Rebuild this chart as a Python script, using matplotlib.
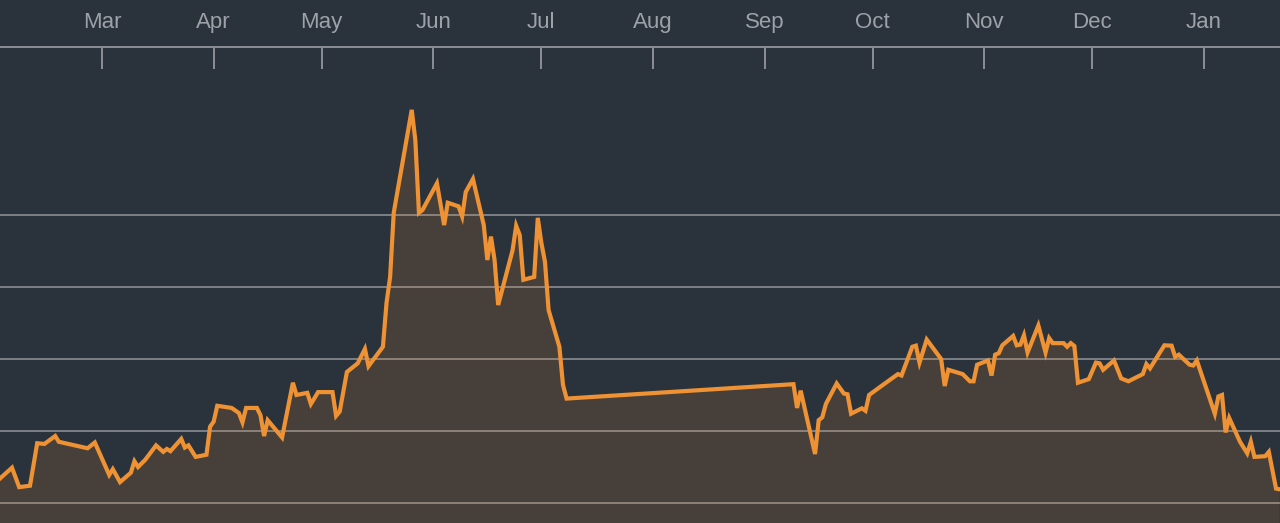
import pandas as pd
import matplotlib
matplotlib.use('Agg')
import matplotlib.pyplot as plt
import matplotlib.dates as mdates

# daily closes (gap between Jul 8 and Sep 9 is in the source)
dates = [
    '2020-02-01', '2020-02-05', '2020-02-07', '2020-02-10', '2020-02-12', '2020-02-14',
    '2020-02-17', '2020-02-18', '2020-02-26', '2020-02-28', '2020-03-03', '2020-03-04',
    '2020-03-06', '2020-03-09', '2020-03-10', '2020-03-11', '2020-03-13', '2020-03-16',
    '2020-03-18', '2020-03-19', '2020-03-20', '2020-03-23', '2020-03-24', '2020-03-25',
    '2020-03-27', '2020-03-30', '2020-03-31', '2020-04-01', '2020-04-02', '2020-04-06',
    '2020-04-08', '2020-04-09', '2020-04-10', '2020-04-13', '2020-04-14', '2020-04-15',
    '2020-04-16', '2020-04-20', '2020-04-23', '2020-04-24', '2020-04-27', '2020-04-28',
    '2020-04-30', '2020-05-04', '2020-05-05', '2020-05-06', '2020-05-08', '2020-05-11',
    '2020-05-13', '2020-05-14', '2020-05-18', '2020-05-19', '2020-05-20', '2020-05-21',
    '2020-05-26', '2020-05-27', '2020-05-28', '2020-05-29', '2020-06-02', '2020-06-04',
    '2020-06-05', '2020-06-08', '2020-06-09', '2020-06-10', '2020-06-12', '2020-06-15',
    '2020-06-16', '2020-06-17', '2020-06-18', '2020-06-19', '2020-06-23', '2020-06-24',
    '2020-06-25', '2020-06-26', '2020-06-29', '2020-06-30', '2020-07-01', '2020-07-02',
    '2020-07-03', '2020-07-06', '2020-07-07', '2020-07-08',
    '2020-09-09', '2020-09-10', '2020-09-11', '2020-09-15', '2020-09-16', '2020-09-17',
    '2020-09-18', '2020-09-21', '2020-09-23', '2020-09-24', '2020-09-25', '2020-09-28',
    '2020-09-29', '2020-09-30', '2020-10-03', '2020-10-08', '2020-10-09', '2020-10-12',
    '2020-10-13', '2020-10-14', '2020-10-16', '2020-10-20', '2020-10-21', '2020-10-22',
    '2020-10-26', '2020-10-28', '2020-10-29', '2020-10-30', '2020-11-02', '2020-11-03',
    '2020-11-04', '2020-11-05', '2020-11-06', '2020-11-09', '2020-11-10', '2020-11-11',
    '2020-11-12', '2020-11-13', '2020-11-16', '2020-11-18', '2020-11-19', '2020-11-20',
    '2020-11-23', '2020-11-24', '2020-11-25', '2020-11-26', '2020-11-27', '2020-11-30',
    '2020-12-02', '2020-12-03', '2020-12-04', '2020-12-07', '2020-12-09', '2020-12-11',
    '2020-12-15', '2020-12-16', '2020-12-17', '2020-12-21', '2020-12-23', '2020-12-24',
    '2020-12-25', '2020-12-28', '2020-12-29', '2020-12-30', '2021-01-04', '2021-01-05',
    '2021-01-06', '2021-01-07', '2021-01-08', '2021-01-11', '2021-01-13', '2021-01-14',
    '2021-01-15', '2021-01-18', '2021-01-19', '2021-01-21', '2021-01-22',
]
values = [
    13.1, 14.9, 12.2, 12.4, 18.3, 18.2,
    19.3, 18.5, 17.6, 18.4, 13.9, 14.7,
    12.9, 14.2, 15.8, 15.0, 16.0, 18.0,
    17.1, 17.5, 17.2, 18.9, 17.7, 18.0,
    16.4, 16.7, 20.6, 21.3, 23.5, 23.2,
    22.5, 21.2, 23.2, 23.2, 22.2, 19.3,
    21.5, 19.1, 26.7, 25.0, 25.3, 23.75,
    25.4, 25.4, 22.1, 22.7, 28.2, 29.4,
    31.4, 29.0, 31.7, 37.8, 41.4, 50.3,
    64.6, 60.4, 50.3, 50.7, 54.4, 48.6,
    51.7, 51.2, 49.8, 53.2, 55.0, 48.6,
    43.75, 47.0, 43.75, 37.5, 45.1, 48.5,
    47.2, 41.0, 41.4, 49.6, 46.1, 43.5,
    36.8, 31.7, 26.4, 24.5,
    26.5, 23.2, 25.6, 16.8, 21.5, 21.9,
    23.75, 26.6, 25.2, 25.1, 22.4, 23.15,
    22.8, 25.0, 26.1, 27.9, 27.7, 31.7,
    31.85, 29.5, 32.7, 30.0, 26.25, 28.5,
    27.9, 26.9, 26.9, 29.2, 29.8, 27.7,
    30.6, 30.8, 31.9, 33.2, 31.9, 32.0,
    33.3, 30.9, 34.65, 30.9, 32.9, 32.2,
    32.2, 31.7, 32.2, 31.8, 26.7, 27.2,
    29.5, 29.4, 28.5, 29.8, 27.3, 26.9,
    27.9, 29.3, 28.7, 31.9, 31.85, 30.3,
    30.6, 29.2, 29.1, 29.8, 22.4, 24.8,
    25.0, 19.8, 21.8, 18.5, 16.9, 18.5,
    16.4, 16.5, 17.1, 12.0, 11.9,
]
grid_levels = [10, 20, 30, 40, 50]

bg = '#2a323c'
orange = '#ee9233'

x = pd.to_datetime(dates)

fig = plt.figure(figsize=(12.8, 5.23), dpi=100, facecolor=bg)
ax = fig.add_axes([0, 0, 1, 476 / 523])
ax.set_facecolor(bg)

ymin, ymax = 7.22, 73.33
for g in grid_levels:
    ax.axhline(g, color='#7c8188', lw=1.4, zorder=1)

ax.fill_between(x, values, ymin, color=orange, alpha=0.15, lw=0, zorder=2)
ax.plot(x, values, color=orange, lw=3.0, solid_joinstyle='miter', zorder=3)

ax.set_ylim(ymin, ymax)
ax.set_xlim(pd.Timestamp('2020-03-01') - pd.Timedelta(days=28.33),
            pd.Timestamp('2021-01-01') + pd.Timedelta(days=21.1))

ax.xaxis.tick_top()
ax.xaxis.set_major_locator(mdates.MonthLocator())
ax.xaxis.set_major_formatter(mdates.DateFormatter('%b'))
ax.tick_params(axis='x', direction='in', length=15.8, width=1.4, color='#8a8f96',
               labelcolor='#9da2a9', labelsize=16, pad=10)
ax.set_yticks([])
for lbl in ax.get_xticklabels():
    lbl.set_fontfamily('Liberation Sans')

for side in ['bottom', 'left', 'right']:
    ax.spines[side].set_visible(False)
ax.spines['top'].set_color('#8a8f96')
ax.spines['top'].set_linewidth(1.4)

fig.savefig('out.png', dpi=100, facecolor=bg)
